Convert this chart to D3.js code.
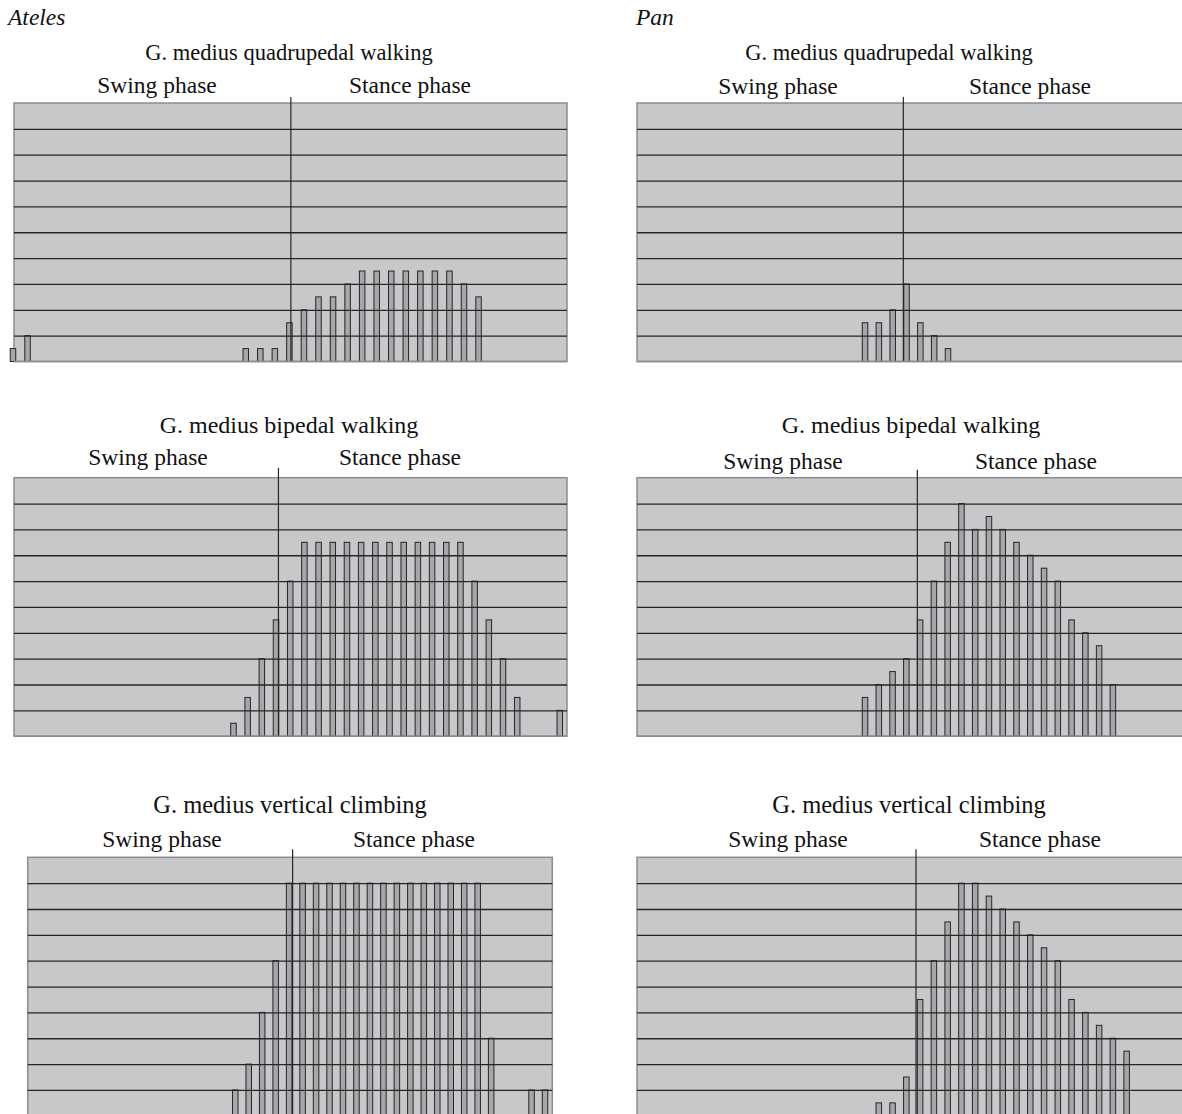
<!DOCTYPE html>
<html>
<head>
<meta charset="utf-8">
<script src="https://cdn.jsdelivr.net/npm/d3@7"></script>
<style>
  html, body { margin: 0; padding: 0; background: #fff; }
  svg { display: block; }
  text { font-family: "Liberation Serif", "Times New Roman", serif; fill: #111; }
</style>
</head>
<body>
<div id="chart"></div>
<script>
// activity level (% of band scale), bins are time slots along the stride
var yTicks = [0, 10, 20, 30, 40, 50, 60, 70, 80, 90, 100];

var atelesQuadBins = [0, 1, 16, 17, 18, 19, 20, 21, 22, 23, 24, 25, 26, 27, 28, 29, 30, 31, 32];
var atelesQuadVals = [5, 10, 5, 5, 5, 15, 20, 25, 25, 30, 35, 35, 35, 35, 35, 35, 35, 30, 25];

var atelesBipedBins = [16, 17, 18, 19, 20, 21, 22, 23, 24, 25, 26, 27, 28, 29, 30, 31, 32, 33, 34, 35, 36, 39];
var atelesBipedVals = [5, 15, 30, 45, 60, 75, 75, 75, 75, 75, 75, 75, 75, 75, 75, 75, 75, 60, 45, 30, 15, 10];

var atelesClimbBins = [16, 17, 18, 19, 20, 21, 22, 23, 24, 25, 26, 27, 28, 29, 30, 31, 32, 33, 34, 35, 38, 39];
var atelesClimbVals = [10, 20, 40, 60, 90, 90, 90, 90, 90, 90, 90, 90, 90, 90, 90, 90, 90, 90, 90, 30, 10, 10];

var panQuadBins = [17, 18, 19, 20, 21, 22, 23];
var panQuadVals = [15, 15, 20, 30, 15, 10, 5];

var panBipedBins = [17, 18, 19, 20, 21, 22, 23, 24, 25, 26, 27, 28, 29, 30, 31, 32, 33, 34, 35];
var panBipedVals = [15, 20, 25, 30, 45, 60, 75, 90, 80, 85, 80, 75, 70, 65, 60, 45, 40, 35, 20];

var panClimbBins = [18, 19, 20, 21, 22, 23, 24, 25, 26, 27, 28, 29, 30, 31, 32, 33, 34, 35, 36];
var panClimbVals = [5, 5, 15, 45, 60, 75, 90, 90, 85, 80, 75, 70, 65, 60, 45, 40, 35, 30, 25];

var genusLabels = ['Ateles', 'Pan'];
var titles = ['G. medius quadrupedal walking', 'G. medius bipedal walking', 'G. medius vertical climbing'];
var phaseLabels = ['Swing phase', 'Stance phase'];

var W = 1182, H = 1114;
var FS = 23.5;
var svg = d3.select('#chart').append('svg').attr('width', W).attr('height', H);

var panels = [
  { bins: atelesQuadBins, vals: atelesQuadVals, title: titles[0], titleSize: 22.5, left: 14, top: 103, width: 553,
    xDomain: [0.07, 38.08], stance: 19.1, titleX: 289, titleY: 60, phaseY: 93, swingX: 157, stanceX: 410, lineUp: 6 },
  { bins: panQuadBins, vals: panQuadVals, title: titles[0], titleSize: 22.5, left: 637, top: 103, width: 553,
    xDomain: [0.51, 40.5], stance: 19.77, titleX: 889, titleY: 60, phaseY: 94, swingX: 778, stanceX: 1030, lineUp: 6 },
  { bins: atelesBipedBins, vals: atelesBipedVals, title: titles[1], titleSize: 24, left: 14, top: 477.7, width: 553,
    xDomain: [0.53, 39.51], stance: 19.17, titleX: 289, titleY: 433, phaseY: 465, swingX: 148, stanceX: 400, lineUp: 10 },
  { bins: panBipedBins, vals: panBipedVals, title: titles[1], titleSize: 24, left: 637, top: 477.7, width: 553,
    xDomain: [0.44, 40.6], stance: 20.8, titleX: 911, titleY: 433, phaseY: 469, swingX: 783, stanceX: 1036, lineUp: 8 },
  { bins: atelesClimbBins, vals: atelesClimbVals, title: titles[2], titleSize: 24.5, left: 27.7, top: 857.3, width: 524.6,
    xDomain: [0.59, 39.54], stance: 20.26, titleX: 290, titleY: 813, phaseY: 847, swingX: 162, stanceX: 414, lineUp: 8 },
  { bins: panClimbBins, vals: panClimbVals, title: titles[2], titleSize: 24.5, left: 637, top: 857.3, width: 553,
    xDomain: [0.44, 40.6], stance: 20.7, titleX: 909, titleY: 813, phaseY: 847, swingX: 788, stanceX: 1040, lineUp: 8 }
];

var bandH = 25.85;
var plotH = bandH * 10;

// genus labels
svg.append('text').attr('x', 8).attr('y', 25).attr('font-size', FS).attr('font-style', 'italic').text(genusLabels[0]);
svg.append('text').attr('x', 636).attr('y', 25).attr('font-size', FS).attr('font-style', 'italic').text(genusLabels[1]);

panels.forEach(function(p) {
  var x = d3.scaleLinear().domain(p.xDomain).range([0, p.width]);
  var y = d3.scaleLinear().domain([0, 100]).range([plotH, 0]);
  var data = p.bins.map(function(b, i) { return { bin: b, val: p.vals[i] }; });

  svg.append('text').attr('x', p.titleX).attr('y', p.titleY).attr('font-size', p.titleSize)
    .attr('text-anchor', 'middle').text(p.title);
  svg.append('text').attr('x', p.swingX).attr('y', p.phaseY).attr('font-size', FS)
    .attr('text-anchor', 'middle').text(phaseLabels[0]);
  svg.append('text').attr('x', p.stanceX).attr('y', p.phaseY).attr('font-size', FS)
    .attr('text-anchor', 'middle').text(phaseLabels[1]);

  var g = svg.append('g').attr('transform', 'translate(' + p.left + ',' + p.top + ')');

  g.append('rect')
    .attr('width', p.width).attr('height', plotH)
    .attr('fill', '#c7c8ca').attr('stroke', '#8d8d8f').attr('stroke-width', 1.5);

  g.selectAll('rect.bar').data(data).enter().append('rect')
    .attr('class', 'bar')
    .attr('x', function(d) { return x(d.bin) - 2.75; })
    .attr('y', function(d) { return y(d.val); })
    .attr('width', 5.5)
    .attr('height', function(d) { return plotH - y(d.val); })
    .attr('fill', '#a6a7aa').attr('stroke', '#262626').attr('stroke-width', 1);

  var grid = g.append('g')
    .call(d3.axisLeft(y).tickValues(yTicks.slice(1, 10)).tickSize(-p.width).tickFormat(''));
  grid.select('.domain').remove();
  grid.selectAll('.tick line').attr('stroke', '#262626').attr('stroke-width', 1.3);

  g.append('line')
    .attr('x1', x(p.stance)).attr('x2', x(p.stance))
    .attr('y1', -p.lineUp).attr('y2', plotH)
    .attr('stroke', '#262626').attr('stroke-width', 1.2);

  g.append('line')
    .attr('x1', 0).attr('x2', p.width).attr('y1', plotH).attr('y2', plotH)
    .attr('stroke', '#8d8d8f').attr('stroke-width', 1.5);
});
</script>
</body>
</html>
